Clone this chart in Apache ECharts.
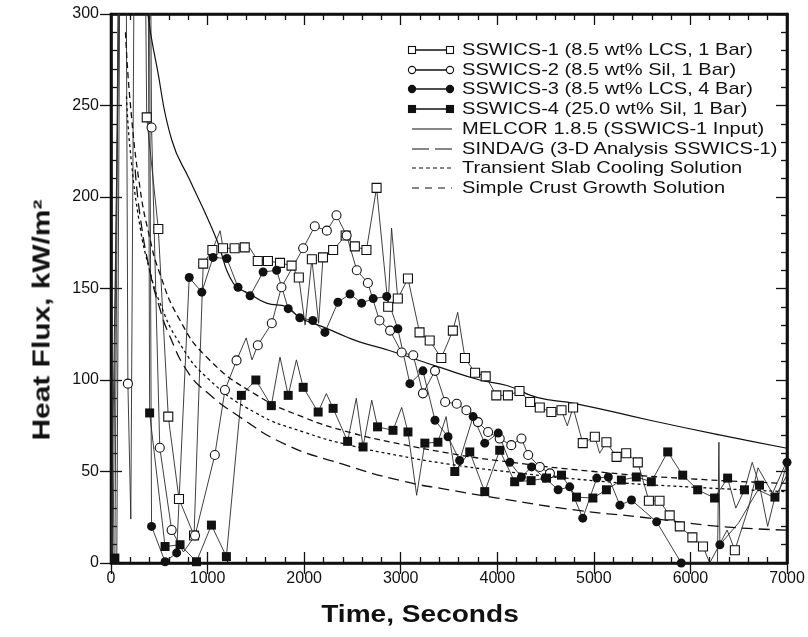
<!DOCTYPE html>
<html>
<head>
<meta charset="utf-8">
<script src="https://cdn.jsdelivr.net/npm/echarts@6/dist/echarts.min.js"></script>
<style>
  html, body { margin: 0; padding: 0; background: #fff; }
  #wrap { position: relative; width: 808px; height: 637px; }
  #chart { width: 808px; height: 637px; }
  .lab { position: absolute; white-space: nowrap; color: #111; font-family: 'Liberation Sans', Arial, sans-serif; pointer-events: none; }
  .xtitle { left: 420px; top: 614px; font-size: 23px; font-weight: bold; transform: translate(-50%, -50%) scaleX(1.22); }
  .ytitle { left: 42px; top: 320px; font-size: 23px; font-weight: bold; transform: translate(-50%, -50%) rotate(-90deg) scaleX(1.3); }
  .row { position: absolute; left: 404px; height: 20px; width: 400px; pointer-events: none; }
  .row svg { position: absolute; left: 0; top: 0; }
  .row span { position: absolute; left: 58px; top: 0; line-height: 20px; font-size: 17px; transform: scaleX(1.18); transform-origin: left center; }
</style>
</head>
<body>
<div id="wrap">
    <div id="chart"></div>
    <div class="lab xtitle">Time, Seconds</div>
    <div class="lab ytitle">Heat Flux, kW/m²</div>
</div>
<script>
// measured points (time s, heat flux kW/m2) - markers
const ss1Marks = [[370,243.5],[490,182.5],[593,80],[704,35],[860,15],[955,163.6],[1050,171],[1160,172],[1280,172],[1385,172.5],[1520,165],[1625,165],[1750,164],[1870,162.5],[1945,156],[2080,166],[2195,167],[2300,171],[2430,179],[2525,173],[2645,171],[2750,205],[2870,140],[2970,144.5],[3075,155.5],[3195,126],[3300,121.6],[3420,112],[3540,127],[3665,112],[3770,104],[3880,102],[3990,91.6],[4110,91.6],[4230,94],[4340,88],[4440,85],[4560,82.5],[4665,83.5],[4785,85],[4885,65.5],[5010,69],[5130,66],[5235,58],[5335,60],[5455,55],[5570,34],[5680,34],[5785,26],[5890,20],[6020,14],[6130,9],[6460,7]];
const ss2Marks = [[175,98],[420,238],[505,63],[628,18],[870,15],[1075,59],[1180,94.5],[1300,110.7],[1520,119],[1665,131],[1765,150.7],[1990,172],[2110,184],[2235,181.6],[2335,190],[2440,179],[2545,160],[2660,153],[2780,132.5],[2890,127],[3010,115],[3130,113.5],[3230,92.7],[3355,105],[3460,88],[3580,87],[3680,83.5],[3800,77],[3905,71.6],[4025,68],[4145,64.4],[4250,68],[4320,59],[4440,52.5],[4545,49]];
const ss3Marks = [[420,20],[560,0.7],[680,5.5],[810,156],[940,148],[1057,167],[1200,166.4],[1315,150.7],[1440,146],[1575,159],[1715,160],[1835,139],[1955,134],[2090,132.5],[2215,126],[2350,142.5],[2475,147],[2595,142],[2715,144.5],[2855,145.6],[2970,128],[3095,98],[3230,105],[3355,78],[3490,69],[3610,56],[3750,80],[3870,65.5],[4010,71],[4130,55],[4250,47],[4355,52.5],[4495,46.4],[4630,40],[4750,41.6],[4885,24.5],[5030,46.4],[5150,47],[5270,31.6],[5390,34.4],[5650,22.5],[5905,0],[6305,10],[7000,55]];
const ss4Marks = [[40,2.7],[400,82],[560,9],[715,10],[885,0.7],[1040,20.7],[1195,3.5],[1350,91.6],[1500,100],[1660,86],[1835,91.6],[1990,96],[2145,82.5],[2300,84.5],[2450,66.5],[2610,63.4],[2760,74.4],[2920,72.5],[3075,71.6],[3250,65.5],[3385,66],[3560,50],[3715,60.7],[3870,39],[4025,61.6],[4180,44.4],[4350,45],[4510,46.4],[4665,48],[4820,36],[4990,35.5],[5130,40],[5285,45.3],[5440,47],[5595,44.4],[5765,60.7],[5920,48],[6075,40],[6250,35.5],[6385,46.4],[6560,40],[6715,42.5],[6875,36]];

// in-between readings on the traces (no marker)
const ss1Extra = [[60,0],[100,420],[340,420],[1130,181.6],[1440,172],[2010,130],[2150,131],[2905,183],[3590,137],[4725,75],[5060,60],[6200,0],[6380,18],[6600,30],[6700,52],[6850,38],[7000,56]];
const ss2Extra = [[20,0],[95,420],[150,420],[205,24],[250,420],[400,420],[750,6],[1400,123],[1460,111],[4650,46]];
const ss3Extra = [[0,0],[120,430],[390,430],[6280,0],[6295,66],[6500,22],[6700,40],[6900,35]];
const ss4Extra = [[90,430],[380,430],[1750,112.5],[1920,111],[2230,92.6],[2540,90],[2700,89],[3010,85],[3165,37],[3470,80],[6470,30],[6640,55],[6800,20],[7000,48]];

// model predictions
const melcor = [[350,330],[383,300],[476,271],[630,231],[818,209],[960,193],[1100,176],[1265,153],[1440,147],[1610,142],[1820,140],[1955,134],[2195,129],[2440,123.5],[2580,120.7],[2890,116],[3400,107],[3820,100],[4100,97],[4410,90.5],[4820,87],[5580,78],[6300,70],[7000,62.7]];
const sindaG = [[250,215],[300,190],[400,160],[500,140],[600,125],[800,104],[1000,93],[1300,81],[1800,65],[2400,54],[3000,45],[3500,40],[4000,35.5],[4800,29],[5500,25],[6300,20],[7000,18]];
const slabCooling = [[160,255],[200,225],[300,184],[400,160],[500,143],[700,121],[1000,101],[1500,82],[2000,71.5],[2500,64],[3000,58.5],[3500,54],[4000,50.5],[5000,45],[6000,41.5],[7000,39]];
const crustGrowth = [[150,290],[200,251],[300,205],[400,178],[500,159],[700,134],[1000,112],[1500,92],[2000,79.5],[2500,71],[3000,65],[3500,60],[4000,56],[5000,50],[6000,46],[7000,43.5]];

const legendLabels = [
    "SSWICS-1 (8.5 wt% LCS, 1 Bar)",
    "SSWICS-2 (8.5 wt% Sil, 1 Bar)",
    "SSWICS-3 (8.5 wt% LCS, 4 Bar)",
    "SSWICS-4 (25.0 wt% Sil, 1 Bar)",
    "MELCOR 1.8.5 (SSWICS-1 Input)",
    "SINDA/G (3-D Analysis SSWICS-1)",
    "Transient Slab Cooling Solution",
    "Simple Crust Growth Solution"
];

const INK = "#111";
const FONT = "'Liberation Sans', Arial, sans-serif";

// join markers and in-between readings into one trace
function trace(marks, extra) {
    return marks.concat(extra).sort((a, b) => a[0] - b[0]);
}

function dataLine(name, marks, extra) {
    return {
        name: name, type: "line", data: trace(marks, extra),
        showSymbol: false, symbol: "none", z: 2,
        lineStyle: { color: "#2a2a2a", width: 0.9 }
    };
}
// markers only: a line series with the stroke hidden
function markers(name, marks, symbol, filled) {
    return {
        name: name, type: "line", data: marks, symbol: symbol, symbolSize: 9,
        showSymbol: true, showAllSymbol: true, z: 4,
        lineStyle: { width: 0, opacity: 0 },
        itemStyle: { color: filled ? INK : "#fff", borderColor: INK, borderWidth: filled ? 0 : 1.1, opacity: 1 }
    };
}
function modelLine(name, data, dash, width) {
    return {
        name: name, type: "line", data: data, smooth: true, showSymbol: false,
        symbol: "none", z: 3,
        lineStyle: { color: INK, width: width, type: dash }
    };
}

// legend as html rows: marker - line - marker, then text
const wrap = document.getElementById("wrap");
legendLabels.forEach((label, i) => {
    const y = 50 + i * 19.7;
    const row = document.createElement("div");
    row.className = "row";
    row.style.top = (y - 10) + "px";
    let sample = "";
    if (i < 4) {
        const fill = (i === 2 || i === 3) ? INK : "#fff";
        sample += '<line x1="8" y1="10" x2="46" y2="10" stroke="' + INK + '" stroke-width="1.3"/>';
        [8, 46].forEach(x => {
            if (i === 0 || i === 3) {
                sample += '<rect x="' + (x - 3.5) + '" y="6.5" width="7" height="7" fill="' + fill + '" stroke="' + INK + '" stroke-width="1.1"/>';
            } else {
                sample += '<circle cx="' + x + '" cy="10" r="3.6" fill="' + fill + '" stroke="' + INK + '" stroke-width="1.1"/>';
            }
        });
    } else {
        const dash = ["", "17 6", "4 3", "7 6"][i - 4];
        sample += '<line x1="8" y1="10" x2="48" y2="10" stroke="' + INK + '" stroke-width="1.2"' + (dash ? ' stroke-dasharray="' + dash + '"' : '') + '/>';
    }
    row.innerHTML = '<svg width="54" height="20">' + sample + '</svg><span class="lab">' + label + '</span>';
    wrap.appendChild(row);
});

const chart = echarts.init(document.getElementById("chart"));

// fresh style objects for each axis
const tickLine = () => ({ color: INK, width: 1.3 });
const frame = () => ({ show: true, onZero: false, lineStyle: { color: INK, width: 2.6 } });
const noLine = () => ({ show: false, onZero: false });
const inTicks = () => ({ show: true, inside: true, length: 11, lineStyle: tickLine() });
const outTicks = () => ({ show: true, inside: false, length: 11, lineStyle: tickLine() });
const minor = () => ({ show: true, splitNumber: 5, length: 6, lineStyle: tickLine() });
const labels = margin => ({ color: INK, fontFamily: FONT, fontSize: 16, margin: margin, formatter: v => String(v) });
function xAx(extra) {
    return Object.assign({ type: "value", min: 0, max: 7000, interval: 1000, splitLine: { show: false } }, extra);
}
function yAx(extra) {
    return Object.assign({ type: "value", min: 0, max: 300, interval: 50, splitLine: { show: false } }, extra);
}

chart.setOption({
    backgroundColor: "#fff",
    animation: false,
    // grid border doubles as the plot frame
    grid: { left: 111, right: 21, top: 14, bottom: 74, show: true, backgroundColor: "transparent", borderColor: INK, borderWidth: 2.6 },
    xAxis: [
        xAx({ position: "bottom", axisLine: frame(), axisTick: outTicks(), axisLabel: labels(8) }),
        xAx({ position: "bottom", axisLine: noLine(), axisTick: inTicks(), minorTick: minor(), axisLabel: { show: false } }),
        xAx({ position: "top", axisLine: frame(), axisTick: inTicks(), minorTick: minor(), axisLabel: { show: false } })
    ],
    yAxis: [
        yAx({ position: "left", axisLine: frame(), axisTick: outTicks(), axisLabel: labels(12) }),
        yAx({ position: "left", axisLine: noLine(), axisTick: inTicks(), minorTick: minor(), axisLabel: { show: false } }),
        yAx({ position: "right", axisLine: frame(), axisTick: inTicks(), minorTick: minor(), axisLabel: { show: false } })
    ],
    series: [
        modelLine("MELCOR 1.8.5 (SSWICS-1 Input)", melcor, "solid", 1.2),
        modelLine("SINDA/G (3-D Analysis SSWICS-1)", sindaG, [11, 6], 1.3),
        modelLine("Transient Slab Cooling Solution", slabCooling, [3, 3], 1.3),
        modelLine("Simple Crust Growth Solution", crustGrowth, [6, 4], 1.3),
        dataLine("SSWICS-1 trace", ss1Marks, ss1Extra),
        dataLine("SSWICS-2 trace", ss2Marks, ss2Extra),
        dataLine("SSWICS-3 trace", ss3Marks, ss3Extra),
        dataLine("SSWICS-4 trace", ss4Marks, ss4Extra),
        markers("SSWICS-1", ss1Marks, "rect", false),
        markers("SSWICS-2", ss2Marks, "circle", false),
        markers("SSWICS-3", ss3Marks, "circle", true),
        markers("SSWICS-4", ss4Marks, "rect", true)
    ]
});
</script>
</body>
</html>
